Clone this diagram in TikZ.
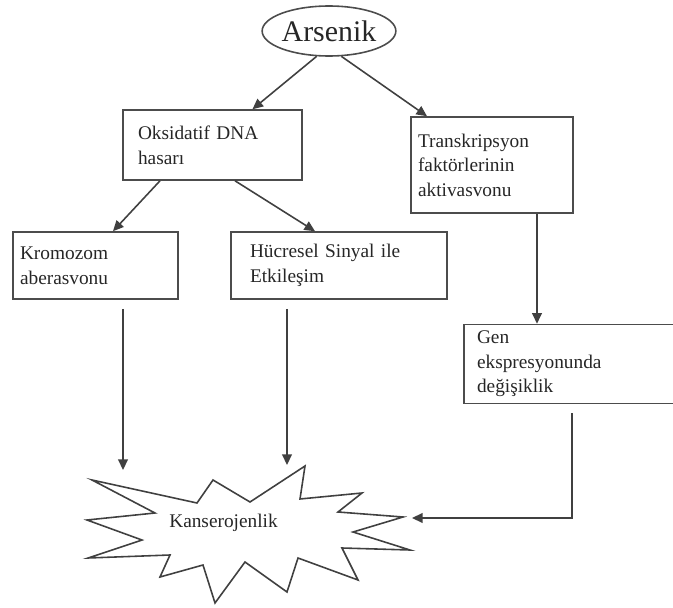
\documentclass[tikz,border=0pt]{standalone}
\usepackage{fontspec}
\setmainfont{Liberation Serif}
\usetikzlibrary{shapes.geometric, arrows.meta}

\begin{document}
\begin{tikzpicture}[
  x=0.02cm, y=-0.02cm,
  every node/.style={font=\fontsize{11}{14}\selectfont, text=black!85},
  box/.style={rectangle, draw=black!70, line width=0.9pt, align=left,
              inner ysep=0pt},
  oval/.style={ellipse, draw=black!70, line width=0.9pt, inner sep=0pt,
               minimum width=2.5cm, minimum height=1.0cm,
               font=\fontsize{17}{20}\selectfont},
  burst/.style={draw=black!75, line width=0.9pt, line join=miter},
  arr/.style={-{Triangle[length=6pt, width=5.5pt]}, line width=0.9pt, black!75}
]
  \useasboundingbox (0,0) rectangle (673,608);
  \clip (0,0) rectangle (673,608);

  % Top
  \node[oval] (arsenik) at (329,31) {Arsenik};

  % Second row
  \node[box, minimum height=1.4cm, text width=2.98cm, inner xsep=0.3cm]
    (oks) at (212.5,145) {Oksidatif DNA\\hasarı};
  \node[box, minimum height=1.92cm, text width=2.96cm, inner xsep=0.14cm]
    (trans) at (492,165) {Transkripsyon\\faktörlerinin\\aktivasvonu};

  % Third row
  \node[box, minimum height=1.34cm, text width=3.02cm, inner xsep=0.14cm]
    (krom) at (95.5,265.5) {Kromozom\\aberasvonu};
  \node[box, minimum height=1.34cm, text width=3.56cm, inner xsep=0.38cm]
    (hucre) at (339,265.5) {Hücresel Sinyal ile\\Etkileşim};
  \node[box, minimum height=1.58cm, text width=3.9cm, inner xsep=0.26cm]
    (gen) at (574.5,364) {Gen\\ekspresyonunda\\değişiklik};

  % Burst
  \draw[burst] (92,480) -- (197,503) -- (213,480) -- (250,502) -- (305,466)
    -- (300,499) -- (362,493) -- (338,512) -- (403,517) -- (353,532)
    -- (410,550) -- (342,548) -- (358,580) -- (298,558) -- (287,592)
    -- (245,562) -- (215,603) -- (203,565) -- (160,577) -- (170,555)
    -- (88,558) -- (142,540) -- (87,520) -- (155,513) -- cycle;
  \node (kanser) at (223.5,523) {Kanserojenlik};

  \coordinate (hitK) at (123,470);
  \coordinate (hitH) at (287,465);
  \coordinate (hitG) at (412,518);
  \coordinate (tg) at ([xshift=0.9cm]trans.south);

  % Arrows
  \draw[arr] (arsenik.244) -- ([xshift=0.8cm]oks.north);
  \draw[arr] (arsenik.296) -- ([xshift=-1.3cm]trans.north);
  \draw[arr] ([xshift=-1.05cm]oks.south) -- ([xshift=0.35cm]krom.north);
  \draw[arr] ([xshift=0.45cm]oks.south) -- ([xshift=-0.48cm]hucre.north);
  \draw[arr] (tg) -- (tg |- gen.north);
  \draw[arr, shorten <=0.18cm] (krom.south -| hitK) -- (hitK);
  \draw[arr, shorten <=0.18cm] (hucre.south -| hitH) -- (hitH);
  \draw[arr, shorten <=0.18cm] ([xshift=-0.05cm]gen.south) |- (hitG);
\end{tikzpicture}
\end{document}
